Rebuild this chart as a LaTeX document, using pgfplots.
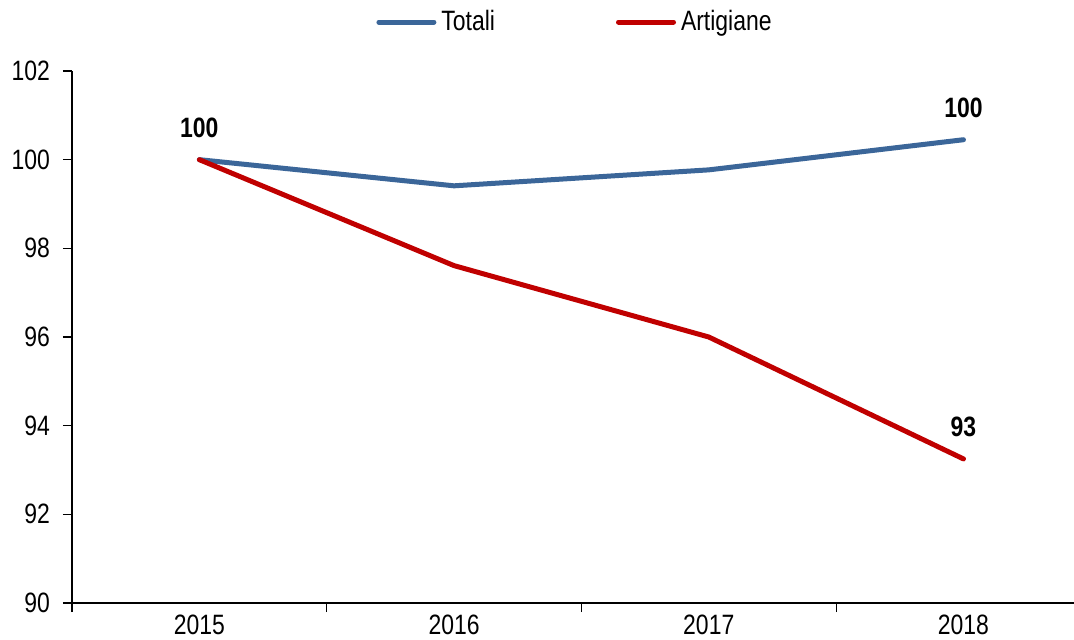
\documentclass[border=0pt]{standalone}
\usepackage{fontspec}
\setmainfont{Liberation Sans}[FakeStretch=0.82]
\usepackage{pgfplots}
\pgfplotsset{compat=1.18}
\usetikzlibrary{calc}

\definecolor{totblue}{HTML}{3B6699}
\definecolor{artred}{HTML}{C00000}

\begin{document}
\begin{tikzpicture}
\begin{axis}[
  name=ax,
  scale only axis,
  width=501pt, height=266pt,
  xmin=-0.5, xmax=3.434,
  ymin=90, ymax=102,
  axis x line=bottom, axis y line=left,
  axis line style={-, black, line width=0.6pt},
  tick align=outside,
  major tick length=4.5pt,
  tick style={black, line width=0.6pt},
  xtick={-0.5,0.5,1.5,2.5},
  xticklabels={},
  extra x ticks={0,1,2,3},
  extra x tick labels={2015,2016,2017,2018},
  extra x tick style={major tick length=0pt},
  ytick={90,92,...,102},
  font=\fontsize{13.5}{16}\selectfont,
  /pgf/number format/assume math mode=true,
  ticklabel style={font=\fontsize{14}{16}\selectfont},
  xticklabel style={yshift=-2.5pt},
  yticklabel style={xshift=-3pt},
  legend style={
    at={(0.3034,1.092)}, anchor=west,
    draw=none, inner sep=0pt,
    legend columns=2,
    font=\fontsize{14}{16}\selectfont,
    nodes={inner ysep=1.5pt, inner xsep=2.5pt},
    /tikz/every even column/.append style={column sep=58pt},
  },
  legend image code/.code={\draw[#1, line cap=round] (0pt,0pt) -- (27.5pt,0pt);},
  every node near coord/.style={anchor=center, yshift=16pt,
    font=\fontsize{14}{16}\selectfont\bfseries, text=black},
]
\addplot[totblue, line width=2.5pt, line cap=round, line join=round,
  nodes near coords, point meta=explicit symbolic] coordinates {
  (0,100)[100]
  (1,99.41)[]
  (2,99.77)[]
  (3,100.45)[100]
};
\addlegendentry{Totali}
\addplot[artred, line width=2.5pt, line cap=round, line join=round,
  nodes near coords, point meta=explicit symbolic] coordinates {
  (0,100)[]
  (1,97.61)[]
  (2,96.0)[]
  (3,93.25)[93]
};
\addlegendentry{Artigiane}
\end{axis}
\pgfresetboundingbox
\path ($(ax.south west)+(-36pt,-18pt)$) rectangle ($(ax.north east)+(0pt,35.5pt)$);
\end{tikzpicture}
\end{document}
